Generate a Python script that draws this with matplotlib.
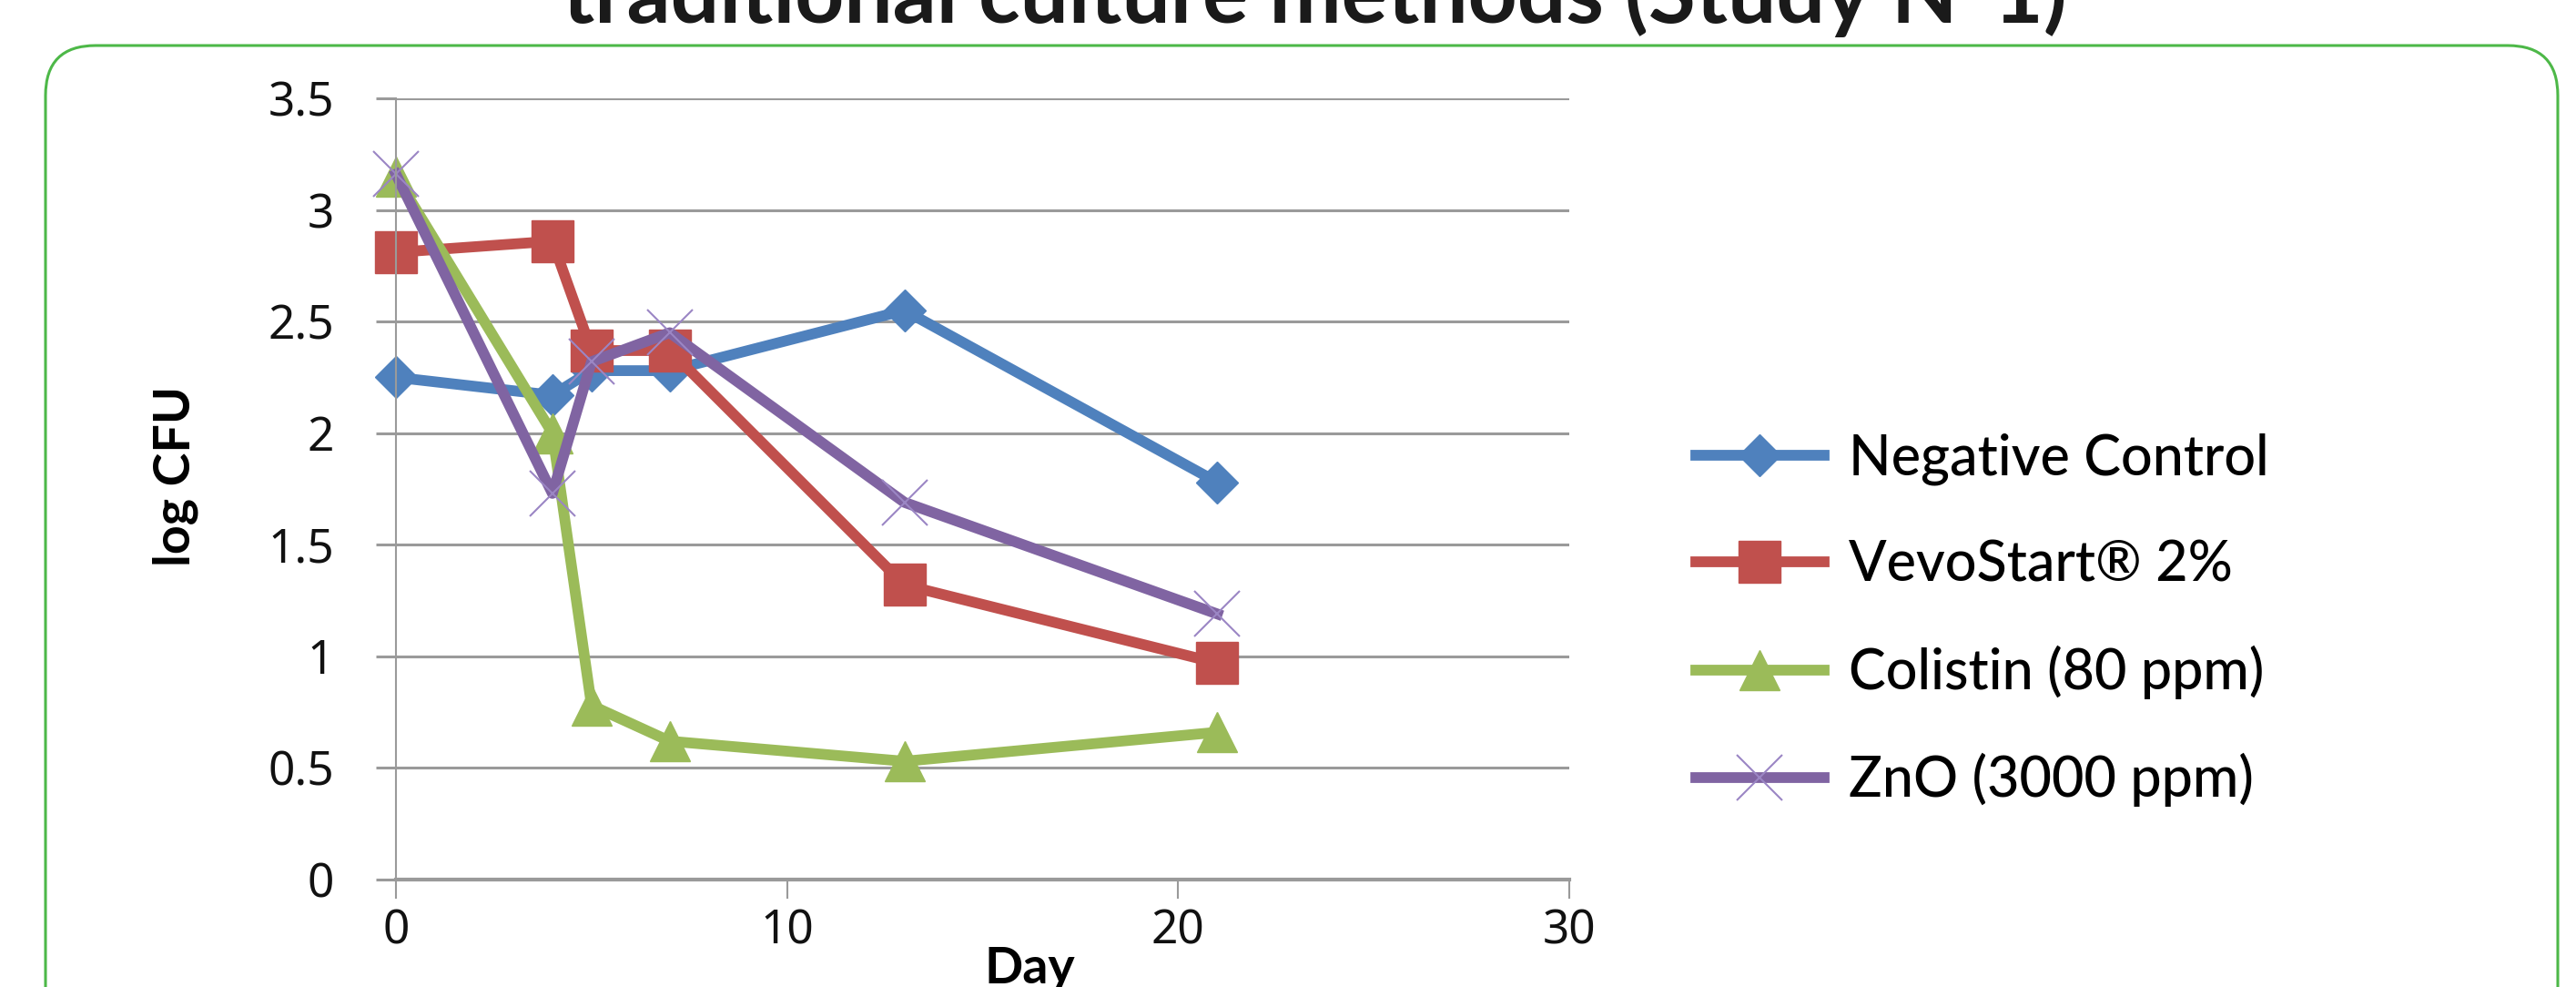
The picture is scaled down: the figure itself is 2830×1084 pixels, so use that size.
import matplotlib
matplotlib.use('Agg')
import matplotlib.pyplot as plt
from matplotlib.patches import FancyBboxPatch

# data
days = [0, 4, 5, 7, 13, 21]
negative_control = [2.25, 2.17, 2.28, 2.28, 2.55, 1.78]
vevostart = [2.81, 2.86, 2.37, 2.37, 1.32, 0.97]
colistin = [3.15, 2.00, 0.78, 0.62, 0.53, 0.66]
zno = [3.16, 1.73, 2.32, 2.45, 1.69, 1.19]

labels = ['Negative Control', 'VevoStart® 2%', 'Colistin (80 ppm)', 'ZnO (3000 ppm)']
x_ticks = [0, 10, 20, 30]
y_ticks = [0, 0.5, 1, 1.5, 2, 2.5, 3, 3.5]
y_tick_labels = ['0', '0.5', '1', '1.5', '2', '2.5', '3', '3.5']

W, H = 2830, 1084
fig = plt.figure(figsize=(W / 100, H / 100), dpi=100)

# rounded green frame (bottom runs off the figure)
frame = FancyBboxPatch((0.5, -0.6), 28.1 - 0.5, 10.34 + 0.6,
                       boxstyle='round,pad=0,rounding_size=0.55',
                       transform=fig.dpi_scale_trans, fill=False,
                       edgecolor='#4db848', linewidth=2.2, zorder=0)
fig.patches.append(frame)

# title, cut off at the top edge
fig.text(1444 / W, 1 - 25 / H, 'traditional culture methods (Study N°1)',
         ha='center', va='baseline', fontsize=68, fontweight='bold',
         family='Lato', color='#1a1a1a')

ax = fig.add_axes([435 / W, 1 - 966 / H, (1724 - 435) / W, (966 - 108) / H])

grid_col = '#9a9a9a'
ax.set_xlim(0, 30)
ax.set_ylim(0, 3.5)
ax.set_yticks(y_ticks)
ax.set_yticklabels(y_tick_labels)
ax.set_xticks(x_ticks)
ax.grid(axis='y', color=grid_col, linewidth=2.2)
ax.set_axisbelow(True)
for s in ['top', 'right']:
    ax.spines[s].set_visible(False)
ax.spines['left'].set_color(grid_col)
ax.spines['left'].set_linewidth(1.5)
ax.spines['bottom'].set_color(grid_col)
ax.spines['bottom'].set_linewidth(3)
ax.tick_params(axis='y', length=16, width=2.2, color=grid_col, pad=33,
               labelsize=37, labelcolor='#111111')
ax.tick_params(axis='x', length=15, width=1.5, color=grid_col, pad=8,
               labelsize=37, labelcolor='#111111')
for t in ax.get_xticklabels() + ax.get_yticklabels():
    t.set_family('Noto Sans')

lw = 8.5
h1, = ax.plot(days, negative_control, color='#4f81bd', lw=lw, marker='D',
              ms=23, clip_on=False, label=labels[0])
h2, = ax.plot(days, vevostart, color='#c0504d', lw=lw, marker='s',
              ms=33, clip_on=False, label=labels[1])
h3, = ax.plot(days, colistin, color='#9bbb59', lw=lw, marker='^',
              ms=32, clip_on=False, label=labels[2])
h4, = ax.plot(days, zno, color='#8064a2', lw=lw, marker='x',
              ms=36, mew=1.5, mec='#9b86c4', clip_on=False, label=labels[3])

fig.text(193 / W, 1 - 523 / H, 'log CFU', rotation=90, ha='center',
         va='center', fontsize=40, fontweight='bold', family='Lato')
fig.text(1131 / W, 1 - 1080 / H, 'Day', ha='center', va='baseline',
         fontsize=40, fontweight='bold', family='Lato')

fig.legend(handles=[h1, h2, h3, h4], loc='center left',
           bbox_to_anchor=(1863 / W, 1 - 681 / H), frameon=False,
           borderpad=0, borderaxespad=0, handlelength=2.3,
           handletextpad=0.45, labelspacing=0.97, numpoints=1,
           prop={'family': 'Lato', 'size': 44, 'weight': 'medium'})

fig.savefig('out.png', dpi=100)
